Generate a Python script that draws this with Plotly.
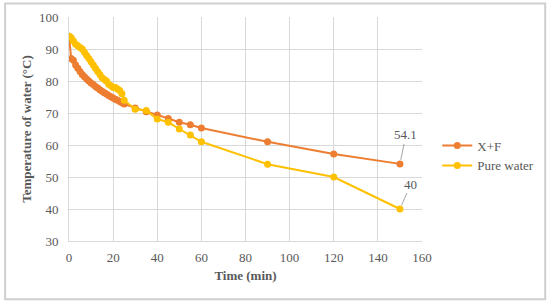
import plotly.graph_objects as go

# X+F series (time in min, temperature in °C)
xf_time = [0, 1, 2, 3, 4, 5, 6, 7, 8, 9, 10, 11, 12, 13, 14, 15, 16, 17, 18, 19,
           20, 21, 22, 23, 24, 25, 30, 35, 40, 45, 50, 55, 60, 90, 120, 150]
xf_temp = [94, 87, 86.5, 85, 84, 83, 82, 81.3, 80.6, 80, 79.4, 78.9, 78.3, 77.8,
           77.3, 76.8, 76.3, 75.9, 75.5, 75.1, 74.7, 74.3, 74, 73.6, 73.2, 72.8,
           71.6, 70.4, 69.4, 68.3, 67.1, 66.3, 65.3, 61, 57.2, 54.1]

# Pure water series
pw_time = [0, 1, 2, 3, 4, 5, 6, 7, 8, 9, 10, 11, 12, 13, 14, 15, 16, 17, 18, 19,
           20, 21, 22, 23, 24, 25, 30, 35, 40, 45, 50, 55, 60, 90, 120, 150]
pw_temp = [94, 93.5, 92.5, 91.5, 91, 90.5, 90, 89, 88, 87, 86, 85, 84, 83, 82,
           81, 80.5, 80, 79, 78.5, 78, 78, 77.5, 77, 76, 74, 71.2, 70.8, 68.1,
           67.1, 65, 63.1, 61, 54, 50, 40]

x_ticks = [0, 20, 40, 60, 80, 100, 120, 140, 160]
y_ticks = [30, 40, 50, 60, 70, 80, 90, 100]

grey = "#595959"
font_family = "Liberation Serif, DejaVu Serif, serif"

fig = go.Figure()

fig.add_trace(go.Scatter(
    x=xf_time, y=xf_temp, name="X+F", mode="lines+markers",
    line=dict(color="#ED7D31", width=2),
    marker=dict(color="#ED7D31", size=7),
))
fig.add_trace(go.Scatter(
    x=pw_time, y=pw_temp, name="Pure water", mode="lines+markers",
    line=dict(color="#FFC000", width=2),
    marker=dict(color="#FFC000", size=7),
))

# end labels
fig.add_annotation(x=xf_time[-1], y=xf_temp[-1], text=str(xf_temp[-1]),
                   showarrow=True, arrowhead=0, arrowwidth=1, arrowcolor="#a6a6a6",
                   ax=6, ay=-29, standoff=4,
                   font=dict(family=font_family, size=13, color=grey))
fig.add_annotation(x=pw_time[-1], y=pw_temp[-1], text=str(int(pw_temp[-1])),
                   showarrow=True, arrowhead=0, arrowwidth=1, arrowcolor="#a6a6a6",
                   ax=11, ay=-25, standoff=4,
                   font=dict(family=font_family, size=13, color=grey))

# outer chart frame
fig.add_shape(type="rect", xref="paper", yref="paper",
              x0=-0.181, x1=1.349, y0=-0.26, y1=1.06,
              line=dict(color="#cfcfcf", width=2), layer="above")

fig.update_layout(
    width=550, height=305,
    margin=dict(l=69, r=128, t=17, b=64),
    paper_bgcolor="white", plot_bgcolor="white",
    font=dict(family=font_family, size=13, color=grey),
    showlegend=True,
    legend=dict(xref="container", x=0.795, y=0.49, yref="container",
                xanchor="left", yanchor="middle",
                font=dict(size=13, color=grey), bgcolor="rgba(0,0,0,0)",
                tracegroupgap=4),
    xaxis=dict(
        range=[0, 160], tickvals=x_ticks, showgrid=True, gridcolor="#d9d9d9",
        gridwidth=1, zeroline=False, showline=True, linecolor="#d9d9d9",
        ticks="", tickfont=dict(size=13, color=grey), automargin=False,
        ticklabelstandoff=4,
        title=dict(text="<b>Time (min)</b>", font=dict(size=13, color=grey), standoff=7),
    ),
    yaxis=dict(
        range=[30, 100], tickvals=y_ticks, showgrid=True, gridcolor="#d9d9d9",
        gridwidth=1, zeroline=False, showline=True, linecolor="#d9d9d9",
        ticks="", tickfont=dict(size=13, color=grey), automargin=False,
        ticklabelstandoff=7,
        title=dict(text="<b>Temperature of water (°C)</b>", font=dict(size=13, color=grey),
                   standoff=4),
    ),
)

fig.write_html("out.html", config={"displayModeBar": False},
               post_script="document.body.style.margin='0';")
